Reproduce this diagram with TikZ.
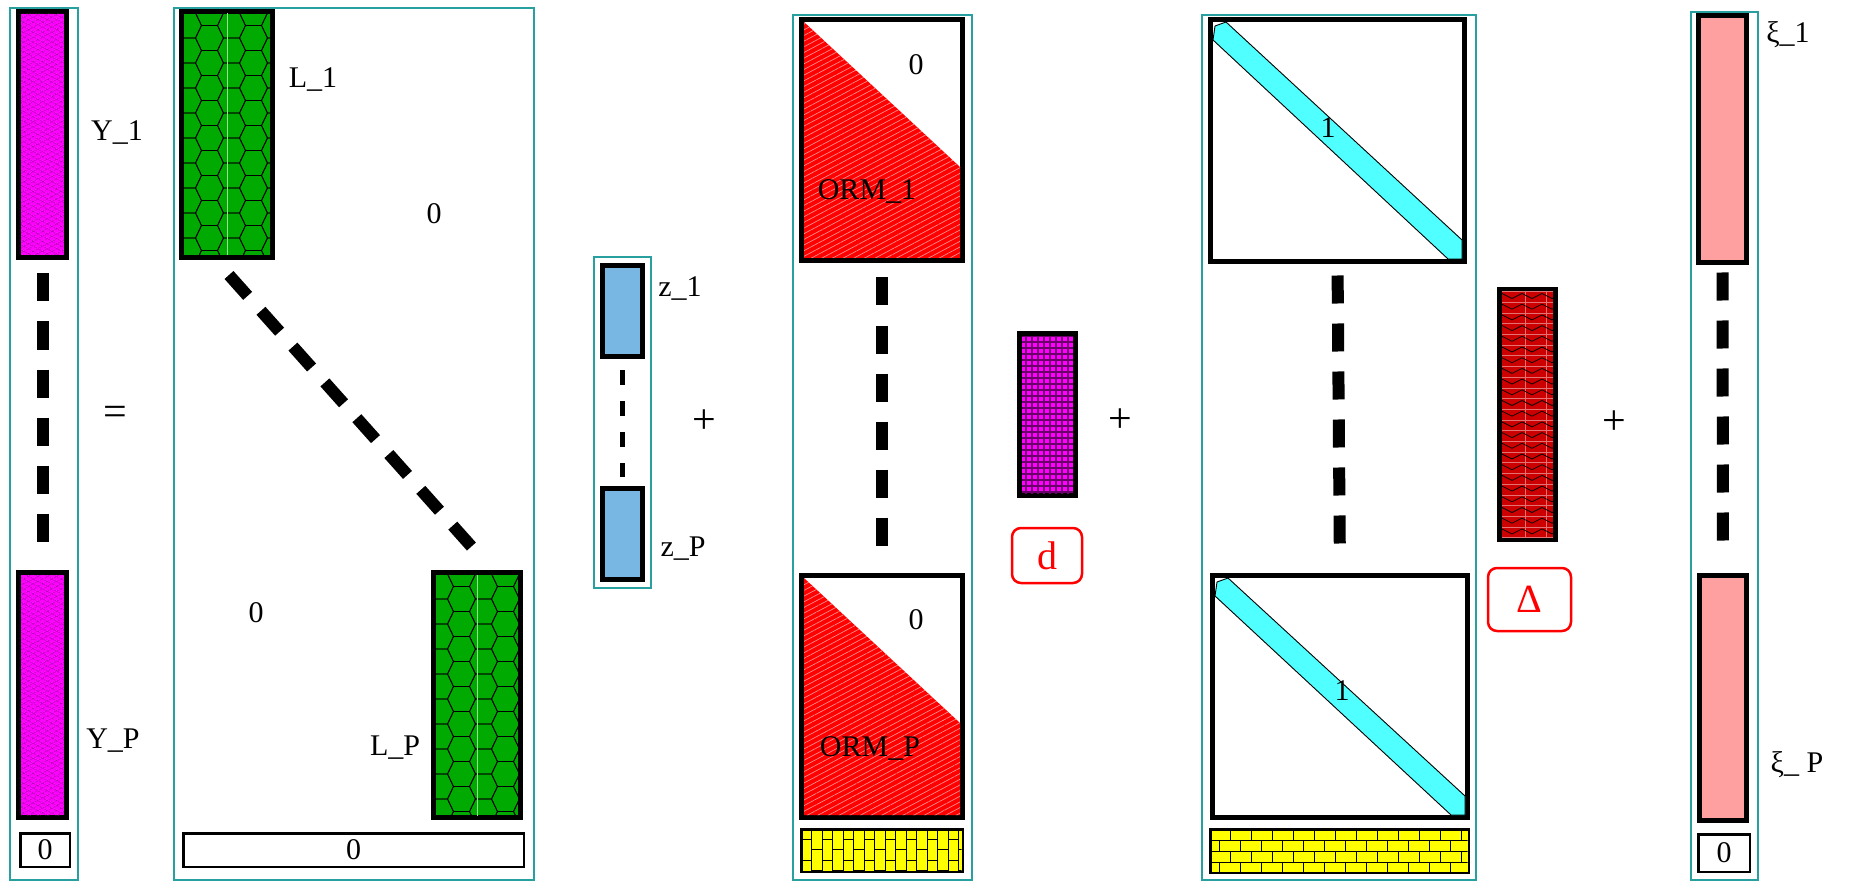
\documentclass[tikz,border=0pt]{standalone}
\usepackage{fontspec}
\setmainfont{Liberation Serif}
\usetikzlibrary{patterns.meta,calc}
\definecolor{teal1}{RGB}{40,160,160}
\definecolor{mag}{RGB}{255,0,255}
\definecolor{magd}{RGB}{110,0,110}
\definecolor{grn}{RGB}{0,170,0}
\definecolor{zblue}{RGB}{120,182,228}
\definecolor{cyanb}{RGB}{80,255,255}
\definecolor{dred}{RGB}{204,0,0}
\definecolor{pinkx}{RGB}{255,160,160}
\definecolor{yel}{RGB}{255,255,0}
\tikzset{
  tealbox/.style={draw=teal1, line width=1.3pt, inner sep=0pt, outer sep=0pt},
  blk/.style={draw=black, line width=5pt, inner sep=0pt, outer sep=0pt},
  zerobox/.style={draw=black, line width=2.5pt, fill=white, inner sep=0pt, outer sep=0pt, font=\fontsize{30}{36}\selectfont},
  lbl/.style={font=\fontsize{30}{36}\selectfont, inner sep=0pt},
  opsym/.style={font=\fontsize{42}{48}\selectfont, inner sep=0pt},
  vdash/.style={line width=12pt, dash pattern=on 28pt off 20pt},
  zdash/.style={line width=5pt, dash pattern=on 15pt off 16pt},
  redbox/.style={draw=red, line width=2.5pt, rounded corners=9pt, text=red, inner sep=0pt, font=\fontsize{40}{46}\selectfont},
  thinl/.style={line width=0.9pt, draw=black}
}
\begin{document}
\begin{tikzpicture}[x=1pt,y=-1pt]
\useasboundingbox (0,0) rectangle (1851,882);
% ---------- containers
\node[tealbox, minimum width=68pt, minimum height=872pt] (tY) at (44,444) {};
\node[tealbox, minimum width=360pt, minimum height=872pt] (tL) at (354,444) {};
\node[tealbox, minimum width=57pt, minimum height=331pt] (tz) at (622.5,422.5) {};
\node[tealbox, minimum width=179pt, minimum height=865pt] (tO) at (882.5,447.5) {};
\node[tealbox, minimum width=274pt, minimum height=865pt] (tI) at (1339,447.5) {};
\node[tealbox, minimum width=67pt, minimum height=868pt] (tX) at (1724.5,446) {};

% ---------- Y column
\node[blk, fill=mag, minimum width=48pt, minimum height=246pt] (Y1) at (42.5,134.5) {};
\node[blk, fill=mag, minimum width=48pt, minimum height=245pt] (YP) at (42.5,695) {};
\foreach \n in {Y1,YP} {
  \begin{scope}
    \clip ($(\n.north west)+(2.5,2.5)$) rectangle ($(\n.south east)+(-2.5,-2.5)$);
    \fill[pattern={Lines[angle=28,distance=4pt,line width=.5pt]}, pattern color=magd] (\n.north west) rectangle (\n.south east);
    \fill[pattern={Lines[angle=-28,distance=4pt,line width=.5pt]}, pattern color=magd] (\n.north west) rectangle (\n.south east);
  \end{scope}
}
\draw[vdash, shorten <=16pt, shorten >=27pt] (Y1.south) -- (YP.north);
\node[zerobox, minimum width=49.5pt, minimum height=33.5pt] (Y0) at (45,850) {0};
\node[lbl] (lY1) at (117,133) {Y\_1};
\node[lbl] (lYP) at (113,741) {Y\_P};
\node[opsym] (eq) at (115,416) {=};

% ---------- L column
\node[blk, fill=grn, minimum width=91pt, minimum height=246pt] (L1) at (227,134.5) {};
\node[blk, fill=grn, minimum width=87pt, minimum height=245pt] (LP) at (477,695) {};
\foreach \n in {L1,LP} {
  \begin{scope}
    \clip ($(\n.north west)+(2.5,2.5)$) rectangle ($(\n.south east)+(-2.5,-2.5)$);
    \foreach \i in {0,...,5} {
      \foreach \j in {-1,...,10} {
        \pgfmathsetmacro\hx{\i*22+6}
        \pgfmathsetmacro\hy{\j*25+mod(\i,2)*12.5+14}
        \draw[line width=.8pt] ($(\n.north west)+(\hx,\hy)$) +(-14,0) -- +(-8,-12.5) -- +(8,-12.5) -- +(14,0) -- +(8,12.5) -- +(-8,12.5) -- cycle;
      }
    }
    \draw[white!60!grn, line width=.6pt] ($(\n.north)+(0,0)$) -- (\n.south);
  \end{scope}
}
\draw[vdash] ($(L1.south)+(2,17.5)$) -- ($(LP.north)+(2,-17.5)$);
\node[zerobox, minimum width=340.5pt, minimum height=33.5pt] (L0) at (353.5,850) {0};
\node[lbl] (lL1) at (313,80) {L\_1};
\node[lbl] (lLP) at (395,748) {L\_P};
\node[lbl] (zU) at (434,214) {0};
\node[lbl] (zD) at (256,613) {0};

% ---------- z column
\node[blk, fill=zblue, minimum width=40pt, minimum height=91pt] (z1) at (622.5,311) {};
\node[blk, fill=zblue, minimum width=40pt, minimum height=91pt] (zP) at (622.5,534) {};
\draw[zdash, shorten <=13.5pt, shorten >=11.5pt] (z1.south) -- (zP.north);
\node[lbl] (lz1) at (680,289) {z\_1};
\node[lbl] (lzP) at (683,549) {z\_P};
\node[opsym] (pl1) at (704,422) {+};

% ---------- ORM column
\node[blk, fill=white, minimum width=161pt, minimum height=241pt] (O1) at (882,140) {};
\node[blk, fill=white, minimum width=161pt, minimum height=242pt] (OP) at (882,696.5) {};
\foreach \n in {O1,OP} {
  \fill[red, postaction={pattern={Lines[angle=28,distance=5pt,line width=.7pt]}, pattern color=white!55!red}]
    ($(\n.north west)+(2.5,2.5)$) -- ($(\n.north east)+(-2.5,147.5)$) -- ($(\n.south east)+(-2.5,-2.5)$) -- ($(\n.south west)+(2.5,-2.5)$) -- cycle;
}
\draw[vdash, shorten <=17pt, shorten >=27pt] (O1.south) -- (OP.north);
\node[lbl] (o1z) at (916,65) {0};
\node[lbl] (o1l) at (867,192) {ORM\_1};
\node[lbl] (oPz) at (916,620) {0};
\node[lbl] (oPl) at (870,748) {ORM\_P};
\node[zerobox, fill=yel, minimum width=161.5pt, minimum height=42.5pt] (Ob) at (882,850.5) {};
\begin{scope}
  \clip ($(Ob.north west)+(1.25,1.25)$) rectangle ($(Ob.south east)+(-1.25,-1.25)$);
  \foreach \i in {1,...,15} \draw[thinl] ($(Ob.north west)+(\i*10.5,0)$) -- ($(Ob.south west)+(\i*10.5,0)$);
  \foreach \i in {0,...,15} {
    \pgfmathsetmacro\off{mod(\i,2)*10.5+10}
    \foreach \k in {0,1,2} \draw[thinl] ($(Ob.north west)+(\i*10.5,\off+\k*21)$) -- ++(10.5,0);
  }
\end{scope}

% ---------- d
\node[blk, fill=mag, minimum width=56pt, minimum height=162pt] (dM) at (1047.5,414.5) {};
\begin{scope}
  \clip ($(dM.north west)+(2.5,2.5)$) rectangle ($(dM.south east)+(-2.5,-2.5)$);
  \fill[pattern={Hatch[distance=6pt,angle=0,line width=1.8pt]}, pattern color=magd] (dM.north west) rectangle (dM.south east);
\end{scope}
\node[redbox, minimum width=70pt, minimum height=55pt] (dB) at (1047,555.5) {d};
\node[opsym] (pl2) at (1120,421) {+};

% ---------- I column
\node[blk, fill=white, minimum width=254pt, minimum height=242pt] (I1) at (1337.5,140.5) {};
\node[blk, fill=white, minimum width=255pt, minimum height=242pt] (IP) at (1340,696.5) {};
\foreach \n in {I1,IP} {
  \begin{scope}
    \clip ($(\n.north west)+(2.5,2.5)$) rectangle ($(\n.south east)+(-2.5,-2.5)$);
    \filldraw[fill=cyanb, draw=black, line width=.9pt]
      ($(\n.north west)+(2.5,20.5)$) -- ($(\n.north west)+(4.5,6.5)$) -- ($(\n.north west)+(15.5,2.5)$)
      -- ($(\n.south east)+(-2.5,-21.5)$) -- ($(\n.south east)+(-2.5,-2.5)$) -- ($(\n.south east)+(-16.5,-2.5)$) -- cycle;
  \end{scope}
}
\draw[vdash, shorten <=14pt, shorten >=27pt] (I1.south) -- (IP.north);
\node[lbl] (i1) at (1328,128) {1};
\node[lbl] (iP) at (1342,691) {1};
\node[zerobox, fill=yel, minimum width=258.5pt, minimum height=43.5pt] (Ib) at (1339.5,851) {};
\begin{scope}
  \clip ($(Ib.north west)+(1.25,1.25)$) rectangle ($(Ib.south east)+(-1.25,-1.25)$);
  \foreach \r in {1,2,3} \draw[thinl] ($(Ib.north west)+(0,\r*10.9)$) -- ($(Ib.north east)+(0,\r*10.9)$);
  \foreach \r in {0,...,3} {
    \pgfmathsetmacro\off{mod(\r,2)*10.5+20}
    \foreach \k in {-1,...,12} \draw[thinl] ($(Ib.north west)+(\off+\k*21,\r*10.9)$) -- ++(0,10.9);
  }
\end{scope}

% ---------- Delta
\node[blk, fill=dred, minimum width=56pt, minimum height=250pt] (DM) at (1527.5,414.5) {};
\begin{scope}
  \clip ($(DM.north west)+(2.5,2.5)$) rectangle ($(DM.south east)+(-2.5,-2.5)$);
  \foreach \j in {0,...,23} \draw[white!45!dred, line width=.6pt] ($(DM.north west)+(0,2+\j*10.7)$) -- ++(60,0);
  \draw[white!45!dred, line width=.6pt] ($(DM.north)+(-2,0)$) -- ($(DM.south)+(-2,0)$);
  \draw[white!45!dred, line width=.6pt] ($(DM.north)+(19,0)$) -- ($(DM.south)+(19,0)$);
  \foreach \j in {0,...,23} \draw[black, line width=.7pt] ($(DM.north west)+(2.5,4+\j*10.7)$) \foreach \k in {0,...,2} { -- ++(10,5) -- ++(10,-5) };
\end{scope}
\node[redbox, minimum width=83pt, minimum height=63pt] (DB) at (1529.5,599.5) {Δ};
\node[opsym] (pl3) at (1614,423) {+};

% ---------- xi column
\node[blk, fill=pinkx, minimum width=48pt, minimum height=247pt] (X1) at (1722.5,139) {};
\node[blk, fill=pinkx, minimum width=47pt, minimum height=245pt] (XP) at (1723,698) {};
\draw[vdash, shorten <=10pt, shorten >=29pt] (X1.south) -- (XP.north);
\node[zerobox, minimum width=51.5pt, minimum height=37.5pt] (X0) at (1724,853) {0};
\node[lbl] (lX1) at (1788,35) {ξ\_1};
\node[lbl] (lXP) at (1797,765) {ξ\_ P};
\end{tikzpicture}
\end{document}
